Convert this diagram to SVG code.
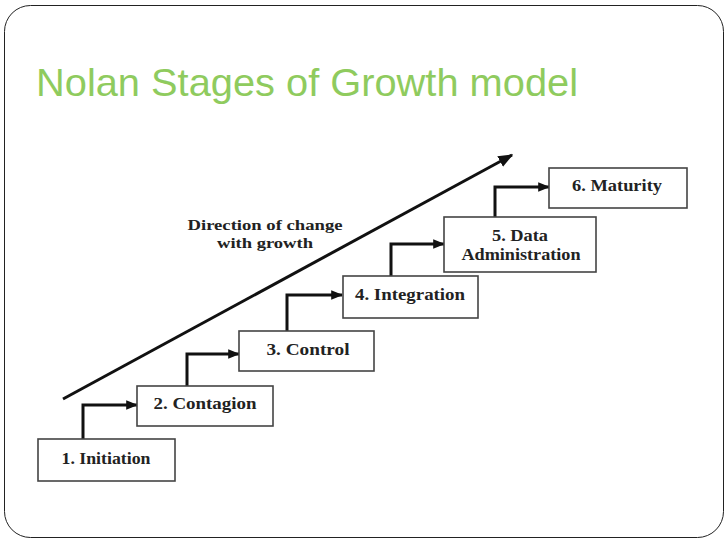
<svg xmlns="http://www.w3.org/2000/svg" width="728" height="546" viewBox="0 0 728 546">
<defs>
<marker id="ah" viewBox="0 0 10 10" refX="9" refY="5" markerWidth="4" markerHeight="4" orient="auto" markerUnits="strokeWidth"><path d="M0,1 L10,5 L0,9 z" fill="#111"/></marker>
<marker id="ah2" viewBox="0 0 10 10" refX="9" refY="5" markerWidth="5" markerHeight="5" orient="auto" markerUnits="strokeWidth"><path d="M0,1 L10,5 L0,9 z" fill="#111"/></marker>
<style>
.box{fill:#fff;stroke:#444;stroke-width:1.6}
.lbl{font-family:"Liberation Serif","Times New Roman",serif;font-weight:bold;font-size:16px;fill:#222;text-anchor:middle}
.dir{font-size:14.5px}
.con{fill:none;stroke:#111;stroke-width:3;marker-end:url(#ah)}
</style>
</defs>
<rect x="4.5" y="5.5" width="719" height="532" rx="26" ry="26" fill="#fff" stroke="#222" stroke-width="1"/>
<text x="36" y="96" font-family="Liberation Sans, Arial, sans-serif" font-size="39" textLength="542" lengthAdjust="spacingAndGlyphs" fill="#8FCB5E">Nolan Stages of Growth model</text>
<g id="connectors">
<path class="con" d="M63,399 L512,155" style="marker-end:url(#ah2)"/>
<path class="con" d="M83,439 V405 H137"/>
<path class="con" d="M187,386 V354 H239"/>
<path class="con" d="M287,331 V295 H342"/>
<path class="con" d="M391,276 V244 H444"/>
<path class="con" d="M495,217 V187 H549"/>
</g>
<g id="direction-label">
<text class="lbl dir" x="265" y="230" textLength="155" lengthAdjust="spacingAndGlyphs">Direction of change</text>
<text class="lbl dir" x="265" y="248" textLength="96" lengthAdjust="spacingAndGlyphs">with growth</text>
</g>
<g id="n1"><rect class="box" x="38" y="439" width="137" height="42"/><text class="lbl" x="106" y="464" textLength="89" lengthAdjust="spacingAndGlyphs">1. Initiation</text></g>
<g id="n2"><rect class="box" x="137" y="386" width="136" height="40"/><text class="lbl" x="205" y="409" textLength="103" lengthAdjust="spacingAndGlyphs">2. Contagion</text></g>
<g id="n3"><rect class="box" x="239" y="331" width="135" height="40"/><text class="lbl" x="308" y="355" textLength="83" lengthAdjust="spacingAndGlyphs">3. Control</text></g>
<g id="n4"><rect class="box" x="343" y="276" width="135" height="42"/><text class="lbl" x="410" y="300" textLength="110" lengthAdjust="spacingAndGlyphs">4. Integration</text></g>
<g id="n5"><rect class="box" x="444" y="217" width="152" height="55"/><text class="lbl" x="520" y="241" textLength="56" lengthAdjust="spacingAndGlyphs">5. Data</text><text class="lbl" x="521" y="260" textLength="119" lengthAdjust="spacingAndGlyphs">Administration</text></g>
<g id="n6"><rect class="box" x="549" y="168" width="138" height="40"/><text class="lbl" x="617" y="191" textLength="90" lengthAdjust="spacingAndGlyphs">6. Maturity</text></g>
</svg>
